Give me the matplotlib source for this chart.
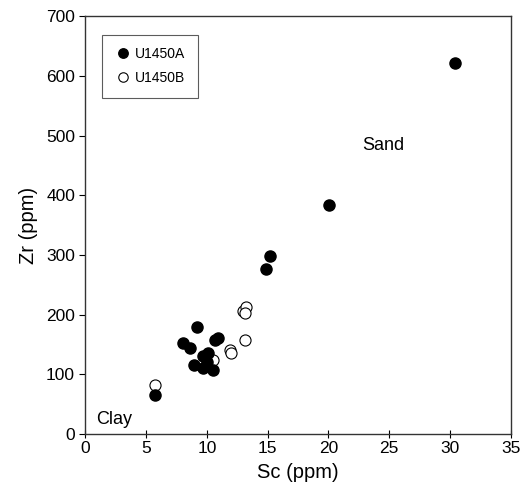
import numpy as np
import matplotlib
matplotlib.use('Agg')
import matplotlib.pyplot as plt

plt.rcParams['font.family'] = ['Liberation Sans', 'DejaVu Sans']

# U1450A (filled)
sc_a = [30.4, 20.05, 15.2, 14.85, 5.72, 9.14, 8.04, 8.6, 10.65, 10.92,
        10.1, 9.69, 8.9, 9.69, 10.5, 9.97]
zr_a = [622, 384, 299, 277, 65, 180, 152, 144, 157, 160,
        135, 130, 116, 110, 107, 121]

# U1450B (open)
sc_b = [5.72, 11.88, 12.0, 10.5, 13.1, 12.95, 13.25, 13.1]
zr_b = [82, 141, 135, 124, 157, 206, 213, 203]

fig = plt.figure(figsize=(5.26, 4.9), dpi=100)
ax = fig.add_axes([0.1625, 0.1143, 0.8085, 0.8527])

ax.plot(sc_b, zr_b, 'o', mfc='white', mec='black', mew=0.8, ms=8,
        label='U1450B', zorder=2)
ax.plot(sc_a, zr_a, 'o', mfc='black', mec='black', ms=8,
        label='U1450A', zorder=3)

ax.set_xlim(0, 35)
ax.set_ylim(0, 700)
ax.set_xticks(np.arange(0, 36, 5))
ax.set_yticks(np.arange(0, 701, 100))
ax.tick_params(axis='x', direction='inout', length=6, labelsize=12.5, pad=2)
ax.tick_params(axis='y', direction='out', length=4, labelsize=12.5)
for s in ax.spines.values():
    s.set_linewidth(1.0)
    s.set_color('#333333')

ax.set_xlabel('Sc (ppm)', fontsize=14.5, labelpad=5)
ax.set_ylabel('Zr (ppm)', fontsize=14.5, labelpad=6)

ax.text(24.5, 483, 'Sand', fontsize=13, ha='center', va='center')
ax.text(0.9, 25, 'Clay', fontsize=13, ha='left', va='center')

h, l = ax.get_legend_handles_labels()
leg = ax.legend(h[::-1], l[::-1], loc='upper left', bbox_to_anchor=(0.022, 0.972),
                fontsize=10, frameon=True, fancybox=False, edgecolor='#333333',
                handletextpad=0.2, markerscale=0.85, handlelength=1.3,
                borderpad=0.9, labelspacing=0.7)
leg.get_frame().set_linewidth(0.8)

fig.savefig('out.png', dpi=100)
